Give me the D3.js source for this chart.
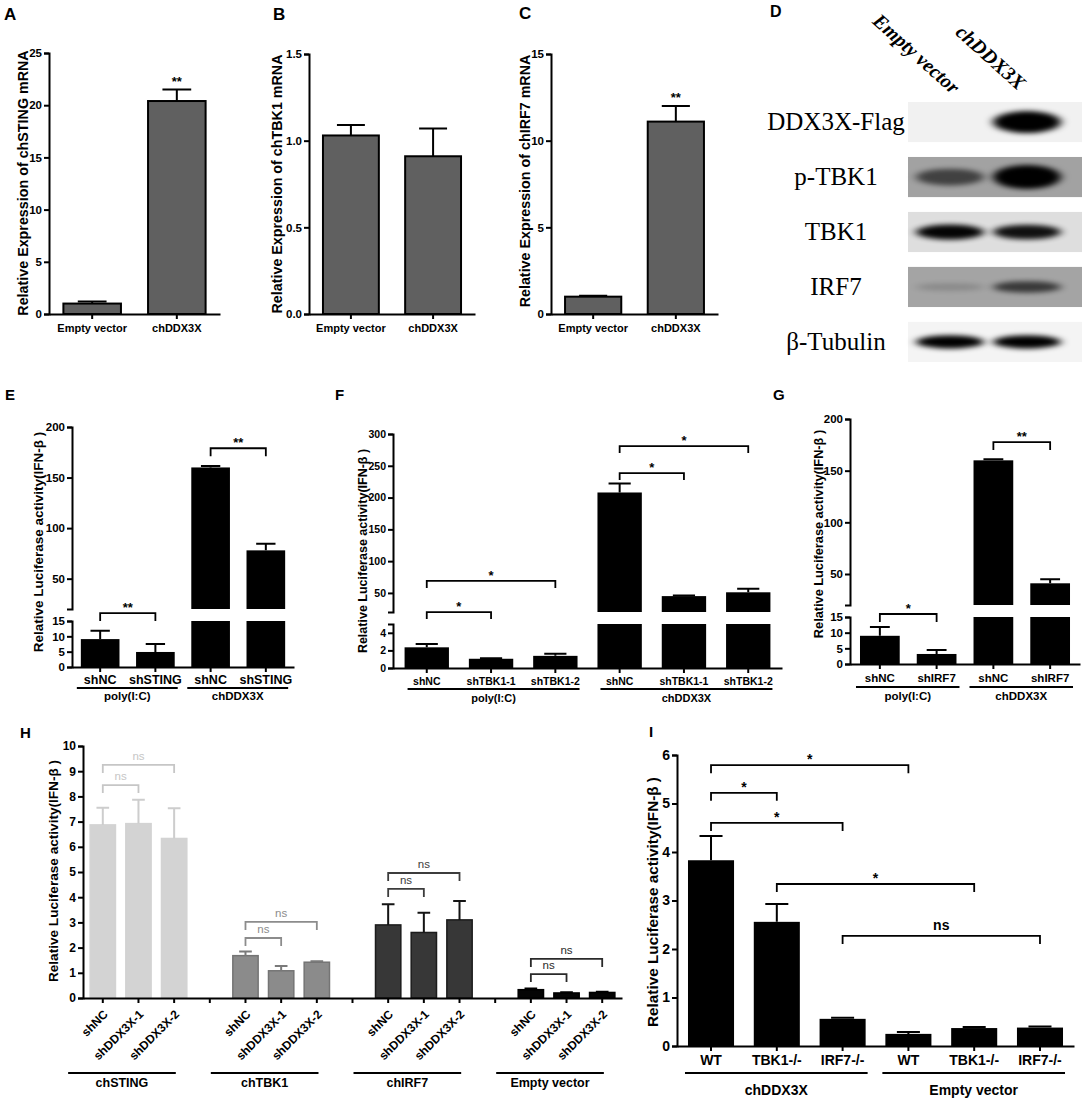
<!DOCTYPE html>
<html>
<head>
<meta charset="utf-8">
<script src="https://cdn.jsdelivr.net/npm/d3@7"></script>
<style>
  body { margin: 0; background: #fff; }
  svg { display: block; }
</style>
</head>
<body>
<svg id="fig" width="1084" height="1100"></svg>
<script>
// ---- data ----

// A-C: qPCR, relative mRNA
const mrnaCats = ['Empty vector', 'chDDX3X'];
const stingMean = [1.0, 20.4];
const stingSem = [0.2, 1.1];
const tbk1Mean = [1.03, 0.91];
const tbk1Sem = [0.06, 0.16];
const irf7Mean = [1.0, 11.1];
const irf7Sem = [0.05, 0.9];

// D: western blot, band strength per lane (0 = none, 1 = saturated)
const blotLanes = ['Empty vector', 'chDDX3X'];
const blotRows = ['DDX3X-Flag', 'p-TBK1', 'TBK1', 'IRF7', 'β-Tubulin'];
const blotEmpty = [0.0, 0.45, 0.8, 0.05, 0.9];
const blotDdx = [1.0, 1.0, 0.75, 0.5, 0.9];

// E: shSTING
const eGroups = ['poly(I:C)', 'chDDX3X'];
const eCats = ['shNC', 'shSTING', 'shNC', 'shSTING'];
const eMean = [9.1, 4.9, 160, 78];
const eSem = [2.7, 2.6, 1.5, 6.5];

// F: shTBK1
const fGroups = ['poly(I:C)', 'chDDX3X'];
const fCats = ['shNC', 'shTBK1-1', 'shTBK1-2', 'shNC', 'shTBK1-1', 'shTBK1-2'];
const fMean = [2.35, 1.05, 1.38, 208, 45, 51];
const fSem = [0.38, 0.05, 0.25, 14, 1, 5.5];

// G: shIRF7
const gGroups = ['poly(I:C)', 'chDDX3X'];
const gCats = ['shNC', 'shIRF7', 'shNC', 'shIRF7'];
const gMean = [9.0, 3.2, 160, 41];
const gSem = [2.8, 1.3, 1, 4];

// H: shDDX3X in each overexpression
const hGroups = ['chSTING', 'chTBK1', 'chIRF7', 'Empty vector'];
const hCats = ['shNC', 'shDDX3X-1', 'shDDX3X-2'];
const hMean = [[6.87, 6.92, 6.33], [1.68, 1.08, 1.42], [2.9, 2.6, 3.1], [0.33, 0.2, 0.22]];
const hSem = [[0.68, 0.95, 1.2], [0.17, 0.19, 0.04], [0.82, 0.78, 0.75], [0.05, 0.03, 0.03]];

// I: knockout cells
const iGroups = ['chDDX3X', 'Empty vector'];
const iCats = ['WT', 'TBK1-/-', 'IRF7-/-', 'WT', 'TBK1-/-', 'IRF7-/-'];
const iMean = [3.83, 2.56, 0.56, 0.25, 0.37, 0.38];
const iSem = [0.5, 0.37, 0.02, 0.04, 0.02, 0.02];

// ---- drawing ----
const FONT = '"Liberation Sans", Arial, sans-serif';
const SERIF = '"Liberation Serif", "Times New Roman", serif';
const svg = d3.select('#fig').attr('font-family', FONT);

const defs = svg.append('defs');
defs.append('filter').attr('id', 'blur')
  .attr('x', '-50%').attr('y', '-150%').attr('width', '200%').attr('height', '400%')
  .append('feGaussianBlur').attr('stdDeviation', '5 2.5');

function styleAxis(ax, size) {
  ax.attr('font-family', FONT);
  ax.select('.domain').attr('stroke-width', 2);
  ax.selectAll('.tick line').attr('stroke-width', 2);
  ax.selectAll('.tick text')
    .attr('font-size', size).attr('font-weight', 'bold').attr('fill', '#000');
}

function letter(t, x, y, size) {
  svg.append('text').attr('x', x).attr('y', y)
    .attr('font-size', size).attr('font-weight', 'bold').text(t);
}

function barPanel(o) {
  const g = svg.append('g');
  const x = d3.scaleBand().domain(o.keys).range(o.xRange)
    .paddingInner(o.pi).paddingOuter(o.po);
  const bw = x.bandwidth();
  const cx = i => x(o.keys[i]) + bw / 2;
  const segs = o.segments.map(s => Object.assign({}, s, {
    y: d3.scaleLinear().domain(s.domain).range(s.range)
  }));
  const base = o.segments[0].range[0];

  // bars, split over the axis segments
  o.bars.forEach(b => {
    segs.forEach((s, si) => {
      if (si > 0 && b.v <= s.domain[0]) return;
      const top = Math.min(b.v, s.domain[1]);
      g.append('rect')
        .attr('x', x(b.key)).attr('width', bw)
        .attr('y', s.y(top)).attr('height', s.y(s.domain[0]) - s.y(top))
        .attr('fill', b.fill)
        .attr('stroke', b.stroke || 'none')
        .attr('stroke-width', o.barStroke || 0);
    });
    const s = segs.filter(s => s.domain[0] <= b.v).pop();
    const px = x(b.key) + bw / 2;
    const y0 = s.y(b.v), y1 = s.y(Math.min(b.v + b.e, s.domain[1]));
    g.append('path')
      .attr('d', `M${px},${y0}V${y1}M${px - bw / 4},${y1}H${px + bw / 4}`)
      .attr('fill', 'none').attr('stroke', b.ec || '#000').attr('stroke-width', 2);
  });

  // y axis (one per segment)
  segs.forEach(s => {
    const ax = g.append('g').attr('transform', `translate(${o.xRange[0]},0)`)
      .call(d3.axisLeft(s.y).tickValues(s.ticks).tickSize(5).tickPadding(2)
        .tickFormat(o.yFmt || d3.format('d')));
    styleAxis(ax, o.tickFont);
  });

  // x axis
  const xa = g.append('g').attr('transform', `translate(0,${base})`)
    .call(d3.axisBottom(x).tickSize(5).tickSizeOuter(0).tickPadding(o.xPad)
      .tickFormat(k => o.labels[o.keys.indexOf(k)] || ''));
  styleAxis(xa, o.xFont);
  if (o.rotate) {
    xa.selectAll('.tick text')
      .attr('transform', 'rotate(-45)').attr('text-anchor', 'end')
      .attr('x', -8).attr('y', 12).attr('dy', '0.35em');
  }

  // group underlines
  (o.groups || []).forEach(gr => {
    const x1 = x(o.keys[gr.from]) + o.groupPad[0];
    const x2 = x(o.keys[gr.to]) + bw + o.groupPad[1];
    g.append('line').attr('x1', x1).attr('x2', x2)
      .attr('y1', o.groupLineY).attr('y2', o.groupLineY)
      .attr('stroke', '#000').attr('stroke-width', 2);
    g.append('text').attr('x', (x1 + x2) / 2).attr('y', o.groupTextY)
      .attr('text-anchor', 'middle').attr('font-size', o.groupFont)
      .attr('font-weight', 'bold').text(gr.label);
  });

  // significance brackets
  (o.brackets || []).forEach(br => {
    const s = segs[br.seg || 0];
    const yb = s.y(br.v), xa1 = cx(br.a), xb = cx(br.b);
    const col = br.color || '#000';
    g.append('path')
      .attr('d', `M${xa1},${yb + o.drop}V${yb}H${xb}V${yb + o.drop}`)
      .attr('fill', 'none').attr('stroke', col).attr('stroke-width', 1.8);
    const ns = br.text === 'ns';
    g.append('text').attr('x', (xa1 + xb) / 2)
      .attr('y', ns ? yb - o.sigFont * 0.45 : yb - 1)
      .attr('text-anchor', 'middle').attr('font-size', o.sigFont)
      .attr('font-weight', ns && o.nsLight ? 'normal' : 'bold')
      .attr('fill', col).text(br.text);
  });

  // stars over a bar
  (o.stars || []).forEach(([i, t]) => {
    const b = o.bars[i];
    g.append('text').attr('x', cx(i)).attr('y', segs[0].y(b.v + b.e) - 4)
      .attr('text-anchor', 'middle').attr('font-size', o.sigFont)
      .attr('font-weight', 'bold').text(t);
  });

  // y label
  g.append('text')
    .attr('transform', `translate(${o.yLabelPos[0]},${o.yLabelPos[1]}) rotate(-90)`)
    .attr('text-anchor', 'middle').attr('font-size', o.yLabelSize)
    .attr('font-weight', 'bold').text(o.yLabel);
}

function makeBars(keys, mean, sem, fill, stroke) {
  return keys.map((k, i) => ({ key: k, v: mean[i], e: sem[i], fill: fill, stroke: stroke, ec: '#000' }));
}

// ---- A, B, C ----
const topCfg = {
  labels: mrnaCats, pi: 0.32, po: 0.17, barStroke: 2,
  tickFont: 11.5, xFont: 11, xPad: 5, sigFont: 13, yLabelSize: 14.3
};
const mKeys = mrnaCats.map((c, i) => 'm' + i);

barPanel(Object.assign({}, topCfg, {
  keys: mKeys, bars: makeBars(mKeys, stingMean, stingSem, '#606060', '#000'),
  xRange: [49, 220],
  segments: [{ domain: [0, 25], range: [314, 53], ticks: [0, 5, 10, 15, 20, 25] }],
  yLabel: 'Relative Expression of chSTING mRNA', yLabelPos: [28, 183],
  stars: [[1, '**']]
}));
barPanel(Object.assign({}, topCfg, {
  keys: mKeys, bars: makeBars(mKeys, tbk1Mean, tbk1Sem, '#606060', '#000'),
  xRange: [309, 475], yFmt: d3.format('.1f'),
  segments: [{ domain: [0, 1.5], range: [314, 54], ticks: [0, 0.5, 1, 1.5] }],
  yLabel: 'Relative Expression of chTBK1 mRNA', yLabelPos: [282, 184]
}));
barPanel(Object.assign({}, topCfg, {
  keys: mKeys, bars: makeBars(mKeys, irf7Mean, irf7Sem, '#606060', '#000'),
  xRange: [551, 718],
  segments: [{ domain: [0, 15], range: [314, 54], ticks: [0, 5, 10, 15] }],
  yLabel: 'Relative Expression of chIRF7 mRNA', yLabelPos: [530, 181],
  stars: [[1, '**']]
}));
letter('A', 4, 20, 17);
letter('B', 273, 20, 17);
letter('C', 519, 19, 17);

// ---- D: blot ----
(function blot() {
  const g = svg.append('g');
  const lane = d3.scalePoint().domain(blotLanes).range([950, 1027]);
  const row = d3.scaleBand().domain(blotRows).range([102, 362]).paddingInner(0.27);
  const bg = ['#f1f1f1', '#a2a2a2', '#dedede', '#a4a4a4', '#f4f4f4'];
  const thick = [11, 12, 8.5, 8, 7];
  blotRows.forEach((r, i) => {
    const cy = row(r) + row.bandwidth() / 2;
    g.append('rect').attr('x', 908).attr('width', 174)
      .attr('y', row(r)).attr('height', row.bandwidth()).attr('fill', bg[i]);
    [blotEmpty[i], blotDdx[i]].forEach((k, j) => {
      if (k <= 0) return;
      g.append('ellipse').attr('cx', lane(blotLanes[j])).attr('cy', cy)
        .attr('rx', 34).attr('ry', thick[i] * (0.45 + 0.55 * k))
        .attr('fill', '#000').attr('opacity', Math.min(1, 0.1 + 1.1 * k))
        .attr('filter', 'url(#blur)');
    });
    g.append('text').attr('x', 836).attr('y', cy).attr('dy', '0.32em')
      .attr('text-anchor', 'middle').attr('font-family', SERIF)
      .attr('font-size', 25).text(r);
  });
  const lblShift = [[2, 95], [-9, 91]];
  blotLanes.forEach((l, j) => {
    g.append('text')
      .attr('transform', `translate(${lane(l) + lblShift[j][0]},${lblShift[j][1]}) rotate(42)`)
      .attr('text-anchor', 'end').attr('font-family', SERIF)
      .attr('font-size', 20).attr('font-weight', 'bold').attr('font-style', 'italic')
      .text(l);
  });
})();
letter('D', 770, 17, 16);

// ---- E, F, G ----
const eKeys = eCats.map((c, i) => 'e' + i);
barPanel({
  keys: eKeys, labels: eCats, bars: makeBars(eKeys, eMean, eSem, '#000'),
  xRange: [72, 294], pi: 0.3, po: 0.16,
  segments: [
    { domain: [0, 15], range: [667, 621], ticks: [0, 5, 10, 15] },
    { domain: [20, 200], range: [609, 427], ticks: [50, 100, 150, 200] }
  ],
  tickFont: 11.5, xFont: 12.5, xPad: 3,
  yLabel: 'Relative Luciferase activity(IFN-β )', yLabelPos: [43, 542], yLabelSize: 13.5,
  groups: eGroups.map((l, i) => ({ label: l, from: i * 2, to: i * 2 + 1 })),
  groupPad: [-4, 3], groupLineY: 688, groupTextY: 700, groupFont: 11.5,
  brackets: [
    { a: 0, b: 1, v: 17.6, seg: 0, text: '**' },
    { a: 2, b: 3, v: 179, seg: 1, text: '**' }
  ],
  drop: 8, sigFont: 13
});
letter('E', 5, 400, 15);

const fKeys = fCats.map((c, i) => 'f' + i);
barPanel({
  keys: fKeys, labels: fCats, bars: makeBars(fKeys, fMean, fSem, '#000'),
  xRange: [393, 782], pi: 0.31, po: 0.18,
  segments: [
    { domain: [0, 5], range: [668, 624], ticks: [0, 2, 4] },
    { domain: [20, 300], range: [612, 434], ticks: [50, 100, 150, 200, 250, 300] }
  ],
  tickFont: 10.5, xFont: 10.5, xPad: 5,
  yLabel: 'Relative Luciferase activity(IFN-β )', yLabelPos: [367, 551], yLabelSize: 12.5,
  groups: fGroups.map((l, i) => ({ label: l, from: i * 3, to: i * 3 + 2 })),
  groupPad: [3, 2], groupLineY: 689, groupTextY: 702, groupFont: 11,
  brackets: [
    { a: 0, b: 1, v: 6.36, seg: 0, text: '*' },
    { a: 0, b: 2, v: 9.9, seg: 0, text: '*' },
    { a: 3, b: 4, v: 238.6, seg: 1, text: '*' },
    { a: 3, b: 5, v: 281, seg: 1, text: '*' }
  ],
  drop: 7, sigFont: 13
});
letter('F', 335, 400, 15);

const gKeys = gCats.map((c, i) => 'g' + i);
barPanel({
  keys: gKeys, labels: gCats, bars: makeBars(gKeys, gMean, gSem, '#000'),
  xRange: [850, 1080], pi: 0.3, po: 0.176,
  segments: [
    { domain: [0, 15], range: [664, 617], ticks: [0, 5, 10, 15] },
    { domain: [20, 200], range: [605, 419], ticks: [50, 100, 150, 200] }
  ],
  tickFont: 11.5, xFont: 11.5, xPad: 5,
  yLabel: 'Relative Luciferase activity(IFN-β )', yLabelPos: [823, 534], yLabelSize: 12.75,
  groups: gGroups.map((l, i) => ({ label: l, from: i * 2, to: i * 2 + 1 })),
  groupPad: [-4, 3], groupLineY: 687, groupTextY: 700, groupFont: 11.5,
  brackets: [
    { a: 0, b: 1, v: 15.96, seg: 0, text: '*' },
    { a: 2, b: 3, v: 177.7, seg: 1, text: '**' }
  ],
  drop: 8, sigFont: 13
});
letter('G', 773, 400, 15);

// ---- H ----
const hFill = ['#d3d3d3', '#8b8b8b', '#373737', '#050505'];
const hEdge = ['#d3d3d3', '#747474', '#1c1c1c', '#000'];
const hErr = ['#cdcdcd', '#7a7a7a', '#141414', '#000'];
const hLine = ['#c6c6c6', '#8c8c8c', '#3c3c3c', '#2a2a2a'];
const hLevels = [[8.45, 9.25], [2.38, 3.02], [4.33, 4.96], [0.95, 1.55]];
const hKeys = [], hLabels = [], hBars = [], hGroupSpans = [], hBrackets = [];
hGroups.forEach((grp, gi) => {
  if (gi > 0) { hKeys.push('gap' + gi); hLabels.push(''); }
  const first = hKeys.length;
  hCats.forEach((c, ci) => {
    const k = 'h' + gi + '-' + ci;
    hKeys.push(k); hLabels.push(c);
    hBars.push({ key: k, v: hMean[gi][ci], e: hSem[gi][ci], fill: hFill[gi], stroke: hEdge[gi], ec: hErr[gi] });
  });
  hGroupSpans.push({ label: grp, from: first, to: first + 2 });
  hBrackets.push({ a: first, b: first + 1, v: hLevels[gi][0], text: 'ns', color: hLine[gi] });
  hBrackets.push({ a: first, b: first + 2, v: hLevels[gi][1], text: 'ns', color: hLine[gi] });
});
barPanel({
  keys: hKeys, labels: hLabels, bars: hBars, barStroke: 1.5,
  xRange: [83, 622], pi: 0.29, po: 0.2,
  segments: [{ domain: [0, 10], range: [998, 746], ticks: d3.range(0, 11) }],
  tickFont: 12, xFont: 12, xPad: 3, rotate: true,
  yLabel: 'Relative Luciferase activity(IFN-β )', yLabelPos: [58, 871], yLabelSize: 13.6,
  groups: hGroupSpans, groupPad: [-22, -11], groupLineY: 1073, groupTextY: 1087, groupFont: 12.5,
  brackets: hBrackets, drop: 8, sigFont: 11.5, nsLight: true
});
letter('H', 20, 738, 15);

// ---- I ----
const iKeys = iCats.map((c, i) => 'i' + i);
barPanel({
  keys: iKeys, labels: iCats, bars: makeBars(iKeys, iMean, iSem, '#000'),
  xRange: [677, 1074], pi: 0.3, po: 0.167,
  segments: [{ domain: [0, 6], range: [1046, 755], ticks: d3.range(0, 7) }],
  tickFont: 14, xFont: 14, xPad: 4,
  yLabel: 'Relative Luciferase activity(IFN-β )', yLabelPos: [658, 902], yLabelSize: 15.3,
  groups: iGroups.map((l, i) => ({ label: l, from: i * 3, to: i * 3 + 2 })),
  groupPad: [-3, 2], groupLineY: 1073, groupTextY: 1095, groupFont: 14,
  brackets: [
    { a: 0, b: 3, v: 5.79, text: '*' },
    { a: 0, b: 1, v: 5.22, text: '*' },
    { a: 0, b: 2, v: 4.6, text: '*' },
    { a: 1, b: 4, v: 3.34, text: '*' },
    { a: 2, b: 5, v: 2.27, text: 'ns' }
  ],
  drop: 8, sigFont: 14
});
letter('I', 649, 737, 15);
</script>
</body>
</html>
